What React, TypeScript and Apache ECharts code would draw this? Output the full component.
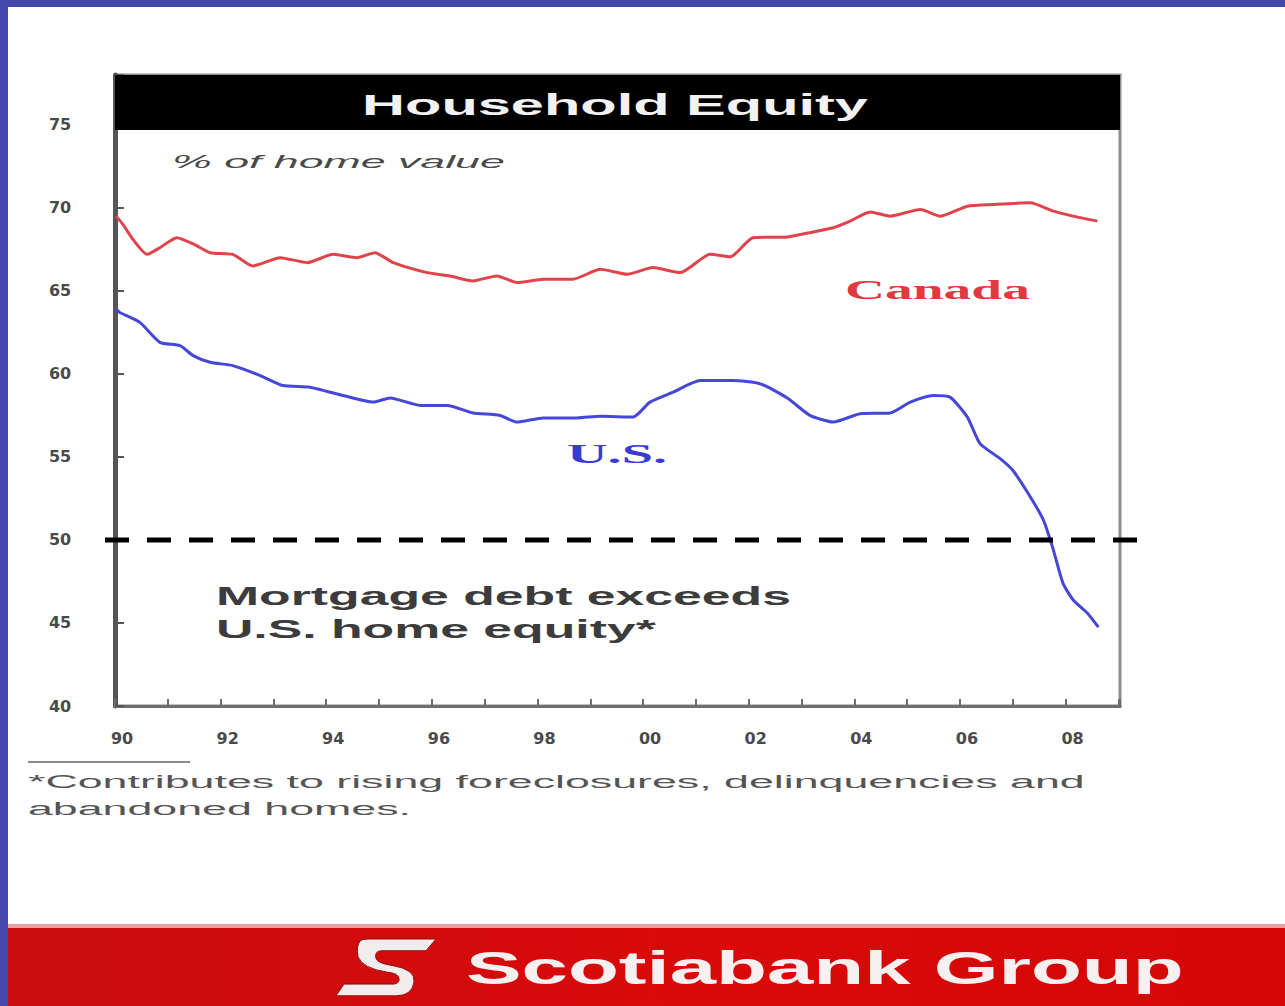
import React, { useEffect, useRef } from 'react';
import * as echarts from 'echarts';

// ---------- data ----------
const canadaYears = [
  1990.02, 1990.15, 1990.34, 1990.61, 1990.85, 1991.17, 1991.5, 1991.8, 1992.23, 1992.61,
  1993.13, 1993.64, 1994.13, 1994.58, 1994.92, 1995.27, 1995.91, 1996.34, 1996.78, 1997.23,
  1997.61, 1998.11, 1998.67, 1999.19, 1999.7, 2000.19, 2000.7, 2001.27, 2001.65, 2002.08,
  2002.73, 2003.22, 2003.6, 2003.92, 2004.3, 2004.68, 2005.25, 2005.63, 2006.14, 2006.63,
  2007.33, 2007.77, 2008.14, 2008.6,
];
const canadaValues = [
  69.5, 69.0, 68.1, 67.2, 67.6, 68.2, 67.8, 67.3, 67.2, 66.5,
  67.0, 66.7, 67.2, 67.0, 67.3, 66.7, 66.1, 65.9, 65.6, 65.9,
  65.5, 65.7, 65.7, 66.3, 66.0, 66.4, 66.1, 67.2, 67.05, 68.2,
  68.25, 68.55, 68.8, 69.2, 69.75, 69.5, 69.9, 69.5, 70.1, 70.2,
  70.3, 69.8, 69.5, 69.2,
];
const usYears = [
  1990.02, 1990.09, 1990.47, 1990.85, 1991.23, 1991.48, 1991.8, 1992.23, 1992.75, 1993.18,
  1993.69, 1994.32, 1994.89, 1995.21, 1995.78, 1996.29, 1996.78, 1997.29, 1997.61, 1998.11,
  1998.75, 1999.19, 1999.81, 2000.13, 2000.57, 2001.08, 2001.7, 2002.22, 2002.73, 2003.16,
  2003.6, 2004.11, 2004.68, 2005.06, 2005.49, 2005.81, 2006.14, 2006.38, 2006.76, 2007.0,
  2007.33, 2007.58, 2007.75, 2007.95, 2008.14, 2008.41, 2008.62,
];
const usValues = [
  63.9, 63.7, 63.1, 61.9, 61.7, 61.1, 60.7, 60.5, 59.9, 59.3,
  59.2, 58.7, 58.3, 58.55, 58.1, 58.1, 57.65, 57.5, 57.1, 57.35,
  57.35, 57.45, 57.4, 58.3, 58.9, 59.6, 59.6, 59.4, 58.55, 57.5,
  57.1, 57.6, 57.65, 58.3, 58.7, 58.6, 57.4, 55.8, 54.9, 54.2,
  52.6, 51.2, 49.6, 47.4, 46.4, 45.6, 44.75,
];
const xTickYears = [1990, 1992, 1994, 1996, 1998, 2000, 2002, 2004, 2006, 2008];
const xTickLabels = ['90', '92', '94', '96', '98', '00', '02', '04', '06', '08'];
const yTickValues = [40, 45, 50, 55, 60, 65, 70, 75];
const thresholdValue = 50;

const titleText = 'Household Equity';
const unitText = '% of home value';
const canadaLabel = 'Canada';
const usLabel = 'U.S.';
const noteLines = ['Mortgage debt exceeds', 'U.S. home equity*'];
const footLines = ['*Contributes to rising foreclosures, delinquencies and', 'abandoned homes.'];
const brandText = 'Scotiabank Group';

const LOGO_PATH =
  'M24,2 Q26,0 32,0 L100,0 L90,12 L46,12 Q38,12 40,20 Q42,25 56,27 Q80,31 78,44 Q76,58 60,58 L0,58 L8,46 L58,46 Q64,45 63,40 Q62,35 52,34 Q26,30 22,18 Q20,8 24,2 Z';

function measure(text: string, font: string): number {
  const ctx = document.createElement('canvas').getContext('2d');
  if (!ctx) return text.length * 10;
  ctx.font = font;
  return ctx.measureText(text).width || 1;
}

type TOpts = {
  fontSize: number;
  fontWeight?: string;
  fontStyle?: string;
  fontFamily: string;
  fill: string;
  align?: string;
};

function scaleFor(text: string, target: number, o: TOpts): number {
  const font = `${o.fontStyle || 'normal'} ${o.fontWeight || 'normal'} ${o.fontSize}px ${o.fontFamily}`;
  return target / measure(text, font);
}

function stretched(text: string, x: number, y: number, sx: number, o: TOpts, z = 12): any {
  return {
    type: 'text',
    x,
    y,
    scaleX: sx,
    z,
    style: {
      text,
      fontSize: o.fontSize,
      fontWeight: o.fontWeight || 'normal',
      fontStyle: o.fontStyle || 'normal',
      fontFamily: o.fontFamily,
      fill: o.fill,
      align: o.align || 'left',
      verticalAlign: 'middle',
    },
  };
}

function buildGraphics(yThreshold: number): any[] {
  const sans = '"Liberation Sans", Arial, sans-serif';
  const serif = '"Liberation Serif", "Times New Roman", serif';

  const titleO: TOpts = { fontSize: 30, fontWeight: 'bold', fontFamily: sans, fill: '#f2f2f2', align: 'center' };
  const unitO: TOpts = { fontSize: 19, fontStyle: 'italic', fontFamily: sans, fill: '#4a4a4a' };
  const canO: TOpts = { fontSize: 28, fontWeight: 'bold', fontFamily: serif, fill: '#e0393f' };
  const usO: TOpts = { fontSize: 28, fontWeight: 'bold', fontFamily: serif, fill: '#3b3bd4' };
  const noteO: TOpts = { fontSize: 26, fontWeight: 'bold', fontFamily: sans, fill: '#3c3c3c' };
  const footO: TOpts = { fontSize: 19, fontFamily: sans, fill: '#555555' };
  const brandO: TOpts = { fontSize: 46, fontWeight: 'bold', fontFamily: sans, fill: '#f6f0f0' };

  const noteS = scaleFor(noteLines[0], 575, noteO);
  const footS = scaleFor(footLines[0], 1057, footO);

  return [
    { type: 'rect', z: -10, shape: { x: 8, y: 7, width: 1277, height: 999 }, style: { fill: '#ffffff' } },
    // bottom banner
    { type: 'rect', z: 1, shape: { x: 8, y: 924, width: 1277, height: 5 }, style: { fill: '#e9a3a3' } },
    {
      type: 'rect',
      z: 1,
      shape: { x: 8, y: 928, width: 1277, height: 78 },
      style: {
        fill: new echarts.graphic.LinearGradient(0, 0, 1, 0, [
          { offset: 0, color: '#c90d0d' },
          { offset: 0.5, color: '#d80a0a' },
          { offset: 1, color: '#d60606' },
        ]),
      },
    },
    {
      type: 'scotiaLogo',
      z: 3,
      x: 336,
      y: 939,
      scaleX: 1,
      scaleY: 0.98,
      style: { fill: '#f3ecec', stroke: '#8a1010', lineWidth: 1 },
    },
    stretched(brandText, 466, 968, scaleFor(brandText, 718, brandO), brandO, 3),
    // title bar
    { type: 'rect', z: 10, shape: { x: 115, y: 75, width: 1005, height: 55 }, style: { fill: '#000000' } },
    stretched(titleText, 615, 104, scaleFor(titleText, 506, titleO), titleO, 11),
    stretched(unitText, 172, 161, scaleFor(unitText, 333, unitO), unitO),
    stretched(canadaLabel, 845, 290, scaleFor(canadaLabel, 185, canO), canO),
    stretched(usLabel, 567, 454, scaleFor(usLabel, 100, usO), usO),
    stretched(noteLines[0], 216, 596, noteS, noteO),
    stretched(noteLines[1], 216, 629, noteS, noteO),
    { type: 'line', z: 12, shape: { x1: 28, y1: 762, x2: 190, y2: 762 }, style: { stroke: '#8a8a8a', lineWidth: 2 } },
    stretched(footLines[0], 28, 781, footS, footO),
    stretched(footLines[1], 28, 808, footS, footO),
    {
      type: 'line',
      z: 20,
      shape: { x1: 105, y1: yThreshold, x2: 1137, y2: yThreshold },
      style: { stroke: '#000000', lineWidth: 5, lineDash: [24, 18] },
    },
  ];
}

export default function App() {
  const ref = useRef<HTMLDivElement>(null);

  useEffect(() => {
    const el = ref.current;
    if (!el) return;
    echarts.graphic.registerShape('scotiaLogo', echarts.graphic.extendPath(LOGO_PATH, {}) as any);
    const chart = echarts.init(el, null, { renderer: 'svg' });

    const canadaData = canadaYears.map((y, i) => [y, canadaValues[i]]);
    const usData = usYears.map((y, i) => [y, usValues[i]]);
    const labelFont = '"DejaVu Sans", sans-serif';

    chart.setOption({
      animation: false,
      backgroundColor: '#4448aa',
      grid: { left: 115, top: 75, width: 1005, height: 631, show: true, borderColor: '#8c8c8c', borderWidth: 3, backgroundColor: 'transparent' },
      xAxis: {
        type: 'value',
        min: 1990,
        max: 2009.03,
        interval: 1,
        axisLine: { show: true, lineStyle: { color: '#6e6e6e', width: 3 } },
        axisTick: { show: true, inside: true, length: 7, lineStyle: { color: '#6e6e6e', width: 2 } },
        splitLine: { show: false },
        axisLabel: {
          margin: 24,
          padding: [0, 0, 0, 14],
          fontSize: 16,
          fontWeight: 'bold',
          fontFamily: labelFont,
          color: '#4a4a4a',
          formatter: (v: number) => {
            const i = xTickYears.indexOf(Math.round(v));
            return i >= 0 && Math.abs(v - Math.round(v)) < 1e-6 ? xTickLabels[i] : '';
          },
        },
      },
      yAxis: {
        type: 'value',
        min: 40,
        max: 78,
        interval: 5,
        axisLine: { show: true, lineStyle: { color: '#555555', width: 5 } },
        axisTick: { show: true, inside: true, length: 9, lineStyle: { color: '#555555', width: 2 } },
        splitLine: { show: false },
        axisLabel: {
          margin: 55,
          align: 'center',
          fontSize: 16,
          fontWeight: 'bold',
          fontFamily: labelFont,
          color: '#4a4a4a',
          formatter: (v: number) => (yTickValues.indexOf(v) >= 0 ? String(v) : ''),
        },
      },
      series: [
        {
          name: 'Canada',
          type: 'line',
          data: canadaData,
          showSymbol: false,
          smooth: 0.2,
          z: 3,
          lineStyle: { color: '#e0434b', width: 3 },
        },
        {
          name: 'U.S.',
          type: 'line',
          data: usData,
          showSymbol: false,
          smooth: 0.2,
          z: 3,
          lineStyle: { color: '#4646d8', width: 3 },
        },
      ],
    });

    const yPix = chart.convertToPixel({ yAxisIndex: 0 }, thresholdValue) as unknown as number;
    chart.setOption({ graphic: buildGraphics(yPix) });

    return () => {
      chart.dispose();
    };
  }, []);

  return <div ref={ref} style={{ position: 'absolute', left: 0, top: 0, width: 1285, height: 1006 }} />;
}
